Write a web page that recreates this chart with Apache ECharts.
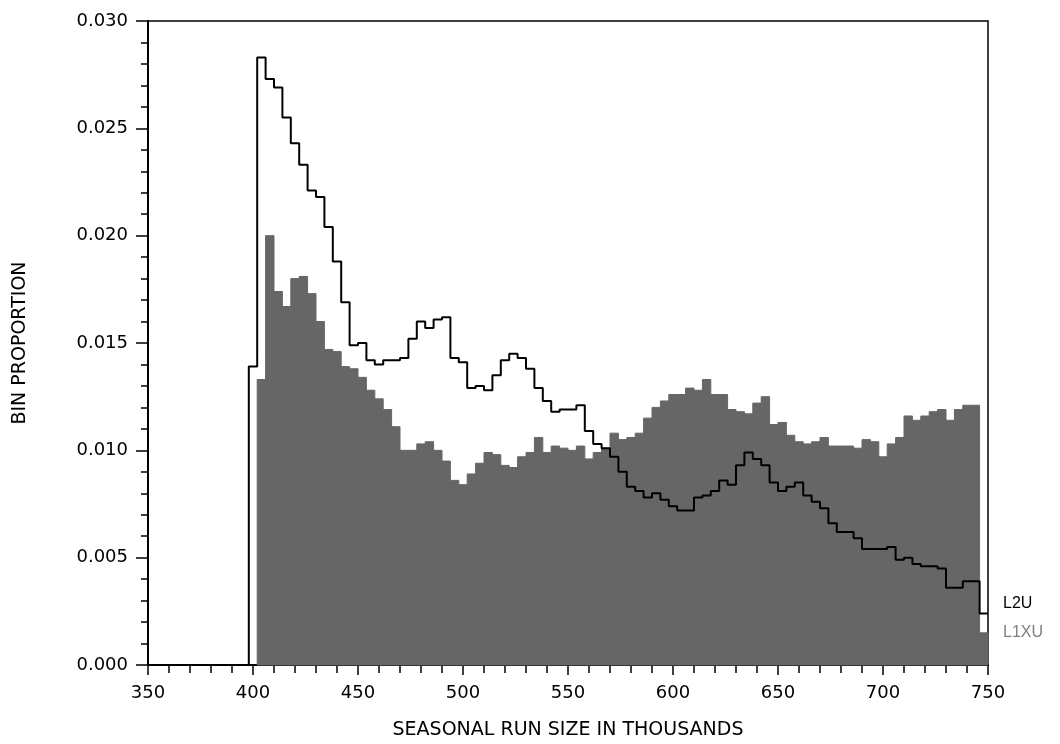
<!DOCTYPE html>
<html>
<head>
<meta charset="utf-8">
<script src="https://cdn.jsdelivr.net/npm/echarts@6/dist/echarts.min.js"></script>
<style>
  html, body { margin: 0; padding: 0; background: #fff; }
  #chart { width: 1060px; height: 744px; }
</style>
</head>
<body>
<div id="chart"></div>
<script>
// ---- data ----
const binWidth = 4;            // thousands per bin
const l2uStart = 398;          // first bin start of L2U
const l1xuStart = 402;         // first bin start of L1XU
const l2uName = 'L2U';
const l1xuName = 'L1XU';
const l2uValues = [
  0.0139, 0.0283, 0.0273, 0.0269, 0.0255, 0.0243, 0.0233, 0.0221, 0.0218, 0.0204,
  0.0188, 0.0169, 0.0149, 0.0150, 0.0142, 0.0140, 0.0142, 0.0142, 0.0143, 0.0152,
  0.0160, 0.0157, 0.0161, 0.0162, 0.0143, 0.0141, 0.0129, 0.0130, 0.0128, 0.0135,
  0.0142, 0.0145, 0.0143, 0.0138, 0.0129, 0.0123, 0.0118, 0.0119, 0.0119, 0.0121,
  0.0109, 0.0103, 0.0101, 0.0097, 0.0090, 0.0083, 0.0081, 0.0078, 0.0080, 0.0077,
  0.0074, 0.0072, 0.0072, 0.0078, 0.0079, 0.0081, 0.0086, 0.0084, 0.0093, 0.0099,
  0.0096, 0.0093, 0.0085, 0.0081, 0.0083, 0.0085, 0.0079, 0.0076, 0.0073, 0.0066,
  0.0062, 0.0062, 0.0059, 0.0054, 0.0054, 0.0054, 0.0055, 0.0049, 0.0050, 0.0047,
  0.0046, 0.0046, 0.0045, 0.0036, 0.0036, 0.0039, 0.0039, 0.0024
];
const l1xuValues = [
  0.0133, 0.0200, 0.0174, 0.0167, 0.0180, 0.0181, 0.0173, 0.0160, 0.0147, 0.0146,
  0.0139, 0.0138, 0.0134, 0.0128, 0.0124, 0.0119, 0.0111, 0.0100, 0.0100, 0.0103,
  0.0104, 0.0100, 0.0095, 0.0086, 0.0084, 0.0089, 0.0094, 0.0099, 0.0098, 0.0093,
  0.0092, 0.0097, 0.0099, 0.0106, 0.0099, 0.0102, 0.0101, 0.0100, 0.0102, 0.0096,
  0.0099, 0.0101, 0.0108, 0.0105, 0.0106, 0.0108, 0.0115, 0.0120, 0.0123, 0.0126,
  0.0126, 0.0129, 0.0128, 0.0133, 0.0126, 0.0126, 0.0119, 0.0118, 0.0117, 0.0122,
  0.0125, 0.0112, 0.0113, 0.0107, 0.0104, 0.0103, 0.0104, 0.0106, 0.0102, 0.0102,
  0.0102, 0.0101, 0.0105, 0.0104, 0.0097, 0.0103, 0.0106, 0.0116, 0.0114, 0.0116,
  0.0118, 0.0119, 0.0114, 0.0119, 0.0121, 0.0121, 0.0015
];
const xMin = 350, xMax = 750, xStep = 50;
const yMin = 0, yMax = 0.030, yStep = 0.005;
const xTitle = 'SEASONAL RUN SIZE IN THOUSANDS';
const yTitle = 'BIN PROPORTION';

// ---- build series data ----
const l2uLine = [[l2uStart, 0]]
  .concat(l2uValues.map((v, i) => [l2uStart + i * binWidth, v]))
  .concat([[l2uStart + l2uValues.length * binWidth, l2uValues[l2uValues.length - 1]]]);
const l1xuBars = l1xuValues.map((v, i) => [l1xuStart + i * binWidth, v]);

const tickFont = { fontFamily: 'DejaVu Sans', fontSize: 18, color: '#000' };

const chart = echarts.init(document.getElementById('chart'), null, { renderer: 'canvas' });
chart.setOption({
  animation: false,
  backgroundColor: '#fff',
  grid: {
    left: 148, right: 72, top: 21, bottom: 79,
    outerBoundsMode: 'none', containLabel: false,
    show: true, borderColor: '#000', borderWidth: 1.5, backgroundColor: 'transparent'
  },
  xAxis: {
    type: 'value', min: xMin, max: xMax, interval: xStep,
    name: xTitle, nameLocation: 'middle', nameGap: 56,
    nameTextStyle: { fontFamily: 'DejaVu Sans', fontSize: 19, color: '#000' },
    axisLine: { show: true, onZero: false, lineStyle: { color: '#000', width: 2 } },
    axisTick: { show: true, inside: false, length: 10, lineStyle: { color: '#000', width: 1.5 } },
    minorTick: { show: true, splitNumber: 5, length: 8, lineStyle: { color: '#000', width: 1.5 } },
    axisLabel: Object.assign({ margin: 19 }, tickFont),
    splitLine: { show: false }
  },
  yAxis: {
    type: 'value', min: yMin, max: yMax, interval: yStep,
    name: yTitle, nameLocation: 'middle', nameGap: 118, nameRotate: 90,
    nameTextStyle: { fontFamily: 'DejaVu Sans', fontSize: 19, color: '#000' },
    axisLine: { show: true, lineStyle: { color: '#000', width: 2 } },
    axisTick: { show: true, inside: false, length: 12, lineStyle: { color: '#000', width: 1.5 } },
    minorTick: { show: true, splitNumber: 5, length: 7, lineStyle: { color: '#000', width: 1.5 } },
    axisLabel: Object.assign({ margin: 20, formatter: v => v.toFixed(3) }, tickFont),
    splitLine: { show: false }
  },
  series: [
    {
      name: l1xuName,
      type: 'custom',
      z: 2,
      data: l1xuBars,
      encode: { x: 0, y: 1 },
      renderItem: function (params, api) {
        const x0 = api.value(0), v = api.value(1);
        const p0 = api.coord([x0, 0]);
        const p1 = api.coord([x0 + binWidth, v]);
        const children = [{
          type: 'rect',
          shape: { x: p0[0], y: p1[1], width: p1[0] - p0[0], height: p0[1] - p1[1] },
          style: { fill: '#666666', stroke: '#666666', lineWidth: 1 }
        }];
        if (params.dataIndex === l1xuBars.length - 1) {
          children.push({
            type: 'text',
            x: p1[0] + 15, y: p1[1],
            style: {
              text: l1xuName, fill: '#808080',
              fontFamily: 'Liberation Sans', fontSize: 16,
              align: 'left', verticalAlign: 'middle'
            }
          });
        }
        return { type: 'group', children: children };
      },
      clip: false
    },
    {
      name: l2uName,
      type: 'line',
      z: 3,
      step: 'end',
      showSymbol: false,
      symbol: 'none',
      data: l2uLine,
      lineStyle: { color: '#000', width: 2 },
      endLabel: {
        show: true, formatter: l2uName, distance: 5, offset: [10, -10],
        color: '#000', fontFamily: 'Liberation Sans', fontSize: 16
      }
    }
  ]
});
</script>
</body>
</html>
